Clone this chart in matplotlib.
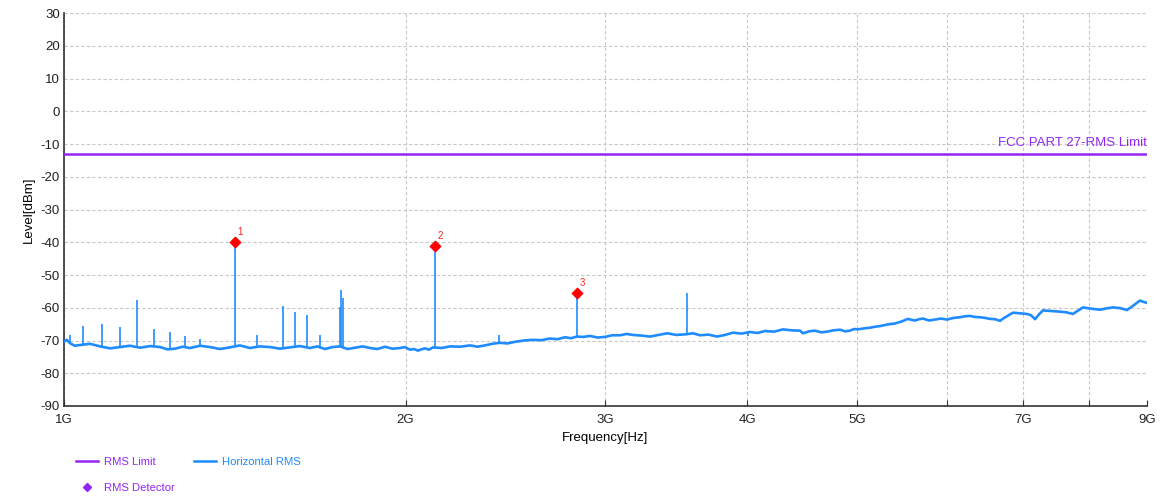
import numpy as np
import matplotlib
matplotlib.use("Agg")
import matplotlib.pyplot as plt
from matplotlib.lines import Line2D

plt.rcParams['font.family'] = ['Liberation Sans', 'DejaVu Sans']
plt.rcParams['axes.unicode_minus'] = False

# noise floor of the horizontal RMS trace (GHz, dBm)
floor_f = [1.000, 1.006, 1.012, 1.022, 1.033, 1.054, 1.076, 1.098, 1.120, 1.143,
           1.167, 1.191, 1.215, 1.234, 1.253, 1.272, 1.291, 1.318, 1.345, 1.372,
           1.400, 1.429, 1.458, 1.488, 1.519, 1.550, 1.582, 1.614, 1.647, 1.672,
           1.698, 1.724, 1.751, 1.778, 1.805, 1.833, 1.861, 1.889, 1.918, 1.947,
           1.977, 1.997, 2.018, 2.034, 2.051, 2.065, 2.080, 2.097, 2.114, 2.151,
           2.189, 2.234, 2.279, 2.314, 2.349, 2.385, 2.421, 2.459, 2.497, 2.543,
           2.589, 2.634, 2.680, 2.722, 2.764, 2.797, 2.831, 2.869, 2.907, 2.952,
           2.997, 3.043, 3.090, 3.131, 3.172, 3.228, 3.284, 3.342, 3.400, 3.466,
           3.532, 3.583, 3.634, 3.698, 3.762, 3.824, 3.886, 3.954, 4.022, 4.084,
           4.147, 4.224, 4.301, 4.376, 4.452, 4.479, 4.535, 4.590, 4.646, 4.703,
           4.765, 4.828, 4.877, 4.926, 4.967, 5.007, 5.068, 5.130, 5.183, 5.236,
           5.317, 5.398, 5.470, 5.542, 5.582, 5.622, 5.667, 5.713, 5.783, 5.854,
           5.926, 5.998, 6.078, 6.158, 6.221, 6.285, 6.349, 6.414, 6.480, 6.546,
           6.613, 6.680, 6.728, 6.776, 6.817, 6.859, 6.957, 7.056, 7.114, 7.172,
           7.230, 7.289, 7.417, 7.545, 7.645, 7.745, 7.824, 7.904, 8.042, 8.181,
           8.290, 8.400, 8.521, 8.643, 8.757, 8.872, 8.936, 9.000]
floor_lvl = [-70.3, -69.8, -70.8, -71.6, -71.4, -71.0, -71.8, -72.4, -72.0, -71.6,
             -72.2, -71.7, -72.0, -72.7, -72.5, -71.9, -72.3, -71.6, -72.0, -72.6,
             -72.1, -71.5, -72.3, -71.8, -72.0, -72.5, -72.1, -71.7, -72.3, -71.8,
             -72.6, -72.0, -71.8, -72.6, -72.2, -71.8, -72.3, -72.6, -71.9, -72.5,
             -72.3, -72.0, -72.8, -72.6, -73.1, -72.7, -72.4, -72.8, -72.1, -72.3,
             -71.8, -71.9, -71.5, -71.9, -71.5, -71.0, -70.7, -70.9, -70.4, -70.0,
             -69.8, -69.9, -69.4, -69.6, -69.0, -69.3, -68.8, -68.9, -68.6, -69.1,
             -68.9, -68.4, -68.4, -68.0, -68.3, -68.5, -68.8, -68.3, -67.8, -68.3,
             -68.1, -67.8, -68.4, -68.2, -68.8, -68.3, -67.6, -67.9, -67.4, -67.7,
             -67.1, -67.3, -66.6, -66.9, -67.0, -67.8, -67.2, -67.0, -67.5, -67.3,
             -66.9, -66.7, -67.2, -67.0, -66.5, -66.6, -66.3, -66.1, -65.8, -65.6,
             -65.1, -64.8, -64.2, -63.4, -63.7, -63.9, -63.5, -63.3, -63.9, -63.6,
             -63.3, -63.6, -63.1, -62.9, -62.6, -62.5, -62.8, -62.9, -63.1, -63.4,
             -63.5, -64.0, -63.2, -62.6, -62.0, -61.5, -61.7, -61.9, -62.3, -63.5,
             -62.0, -60.8, -61.0, -61.2, -61.4, -61.9, -60.9, -59.9, -60.3, -60.6,
             -60.2, -59.9, -60.1, -60.7, -59.3, -57.8, -58.2, -58.5]

# narrow spurs on the trace (GHz, dBm)
spur_f = [1.012, 1.039, 1.080, 1.120, 1.159, 1.200, 1.240, 1.279, 1.318, 1.414,
          1.478, 1.560, 1.598, 1.639, 1.680, 1.750, 1.754, 1.760, 2.121, 2.419,
          2.829, 3.538, 4.003]
spur_lvl = [-68.4, -65.6, -65.1, -66.0, -57.6, -66.4, -67.5, -68.6, -69.5, -40.0,
            -68.3, -59.5, -61.4, -62.2, -68.4, -59.9, -54.6, -57.0, -41.1, -68.4,
            -55.4, -55.6, -68.5]

# RMS detector markers
mark_f = [1.414, 2.121, 2.829]
mark_lvl = [-40.0, -41.1, -55.4]
mark_lbl = ['1', '2', '3']

limit_lvl = -13.0
limit_txt = 'FCC PART 27-RMS Limit'

xticks = [1, 2, 3, 4, 5, 6, 7, 8, 9]
xtick_lbl = ['1G', '2G', '3G', '4G', '5G', '', '7G', '', '9G']

purple = '#9326F2'
blue = '#1E8CFF'

fig = plt.figure(figsize=(11.61, 4.97), dpi=100)
ax = fig.add_axes([0.0551, 0.1831, 0.9328, 0.7907])

ax.set_xscale('log')
ax.set_xlim(1, 9)
ax.set_ylim(-90, 30)

ax.plot(floor_f, floor_lvl, color=blue, lw=1.9, zorder=3)
base = np.interp(spur_f, floor_f, floor_lvl)
ax.vlines(spur_f, base, spur_lvl, color=blue, lw=1.2, zorder=3)
ax.axhline(limit_lvl, color=purple, lw=1.8, zorder=4)
ax.text(9, limit_lvl + 1.5, limit_txt, color=purple, fontsize=9.5,
        ha='right', va='bottom', zorder=5)

ax.scatter(mark_f, mark_lvl, marker='D', s=28, color='#FF0000', zorder=6)
for f, v, t in zip(mark_f, mark_lvl, mark_lbl):
    ax.annotate(t, (f, v), xytext=(2, 5), textcoords='offset points',
                color='#FF2020', fontsize=7)

ax.set_xticks(xticks)
ax.set_xticklabels(xtick_lbl)
ax.xaxis.set_minor_locator(matplotlib.ticker.NullLocator())
ax.set_yticks(np.arange(-90, 31, 10))
ax.tick_params(axis='x', direction='in', length=4, width=0.8, colors='#333333',
               labelsize=9.5, labelcolor='#222222', pad=6)
ax.tick_params(axis='y', length=0, labelsize=9.5, labelcolor='#222222', pad=3)

ax.grid(True, color='#c8c8c8', ls=(0, (3, 2)), lw=0.8)
for s in ['top', 'right']:
    ax.spines[s].set_visible(False)
for s in ['left', 'bottom']:
    ax.spines[s].set_color('#333333')
    ax.spines[s].set_linewidth(1.2)

ax.set_xlabel('Frequency[Hz]', fontsize=9.5, labelpad=4)
ax.set_ylabel('Level[dBm]', fontsize=9.5, labelpad=4)

handles = [Line2D([], [], color=purple, lw=1.8),
           Line2D([], [], color=purple, marker='D', ms=4, lw=0),
           Line2D([], [], color=blue, lw=1.8)]
labels = ['RMS Limit', 'RMS Detector', 'Horizontal RMS']
fig.legend(handles, labels, loc='upper left', bbox_to_anchor=(0.0655, 0.0804),
           ncol=2, frameon=False, fontsize=8.1, labelcolor='linecolor',
           handlelength=1.95, handletextpad=0.55, columnspacing=1.7,
           labelspacing=1.4, borderpad=0, borderaxespad=0)

fig.savefig('out.png', dpi=100)
